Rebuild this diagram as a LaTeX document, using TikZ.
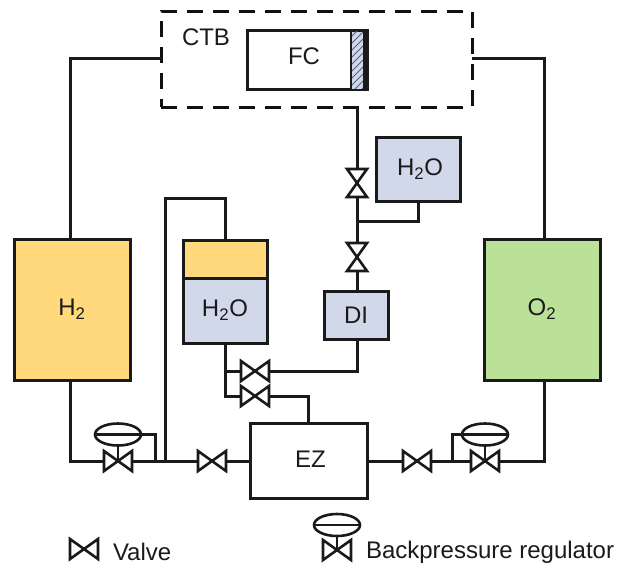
\documentclass[tikz,border=0pt]{standalone}
\usepackage{fontspec}
\setmainfont{Liberation Sans}
\usetikzlibrary{shapes.geometric}
\def\px{0.75pt}
\definecolor{inkc}{HTML}{1A1A1A}
\definecolor{yellowc}{HTML}{FFD97C}
\definecolor{bluec}{HTML}{D1D8E9}
\definecolor{greenc}{HTML}{BBE097}
\definecolor{dashc}{HTML}{111111}
\definecolor{hatchc}{HTML}{55607A}
\tikzset{
  pipe/.style={draw=inkc,line width=3*\px,line join=miter},
  valveline/.style={draw=inkc,line width=2.6*\px,line join=miter,miter limit=3},
  boxn/.style={draw=inkc,line width=3*\px,inner sep=0pt,outer sep=0pt,text=inkc,font=\fontsize{18pt}{19pt}\selectfont,align=center},
  labeln/.style={inner sep=0pt,outer sep=0pt,text=inkc,font=\fontsize{18pt}{19pt}\selectfont},
  valveh/.style={inner sep=0pt,outer sep=0pt,minimum width=28*\px,minimum height=20*\px,
    append after command={\pgfextra{\draw[valveline] (\tikzlastnode.north west) -- (\tikzlastnode.south east) -- (\tikzlastnode.north east) -- (\tikzlastnode.south west) -- cycle;}}},
  valvev/.style={inner sep=0pt,outer sep=0pt,minimum width=20*\px,minimum height=28*\px,
    append after command={\pgfextra{\draw[valveline] (\tikzlastnode.north west) -- (\tikzlastnode.north east) -- (\tikzlastnode.south west) -- (\tikzlastnode.south east) -- cycle;}}},
  diaphragm/.style={ellipse,draw=inkc,line width=2.6*\px,inner sep=0pt,outer sep=0pt,minimum width=46*\px,minimum height=22*\px,
    append after command={\pgfextra{\draw[valveline] (\tikzlastnode.west) -- (\tikzlastnode.east);}}},
}
\newcommand{\lift}[1]{\raisebox{3pt}{#1}}
\begin{document}
\begin{tikzpicture}[x=0.75pt,y=-0.75pt]
\useasboundingbox (0,0) rectangle (617,565);
% boxes
\node[boxn,fill=yellowc,minimum width=116*\px,minimum height=141*\px] (h2) at (72,309.5) {\lift{H\textsubscript{2}}};
\node[boxn,fill=greenc,minimum width=116*\px,minimum height=141*\px] (o2) at (542,309.5) {\lift{O\textsubscript{2}}};
\node[boxn,fill=yellowc,minimum width=84*\px,minimum height=38*\px] (tanktop) at (225,259) {};
\node[boxn,fill=bluec,minimum width=84*\px,minimum height=65*\px] (tankw) at (225,310.5) {\lift{H\textsubscript{2}O}};
\node[boxn,fill=bluec,minimum width=84*\px,minimum height=64*\px] (wtop) at (418,169) {\hspace{3pt}\lift{H\textsubscript{2}O}};
\node[boxn,fill=bluec,minimum width=64*\px,minimum height=48*\px] (di) at (356,315) {DI};
\node[boxn,minimum width=117*\px,minimum height=75*\px] (ez) at (308.5,460.5) {\hspace{3pt}\raisebox{1.5pt}{EZ}};
\node[boxn,minimum width=120*\px,minimum height=59*\px] (fc) at (307,60) {};
\node[labeln] (fct) at (304,56) {FC};
\node[boxn,draw=none,fill=bluec,minimum width=12*\px,minimum height=57*\px] (mem) at (357,60) {};
\begin{scope}
\clip (mem.south west) rectangle (mem.north east);
\foreach \k in {0,7,...,84}{\draw[hatchc,line width=1*\px] (351,30+\k) -- (363,18+\k);}
\end{scope}
\fill[inkc] (363,30) rectangle (368,91);
\draw[pipe,line width=2*\px] (mem.north west) -- (mem.south west);
\node[boxn,minimum width=311*\px,minimum height=96*\px,draw=dashc,dash pattern=on 16*\px off 10*\px] (ctb) at (316.5,59) {};
\node[labeln] (ctbt) at (206,37) {CTB};
% valves
\node[valvev] (vt1) at (357,183) {};
\node[valvev] (vt2) at (357,257) {};
\node[valveh] (vd) at (255,371) {};
\node[valveh] (ve) at (255,396) {};
\node[valveh] (rl) at (118,461) {};
\node[valveh] (vl) at (212,461) {};
\node[valveh] (vr) at (417,461) {};
\node[valveh] (rr) at (485,461) {};
\node[diaphragm] (dl) at (118,434.5) {};
\node[diaphragm] (dr) at (485,434.5) {};
% free bends
\coordinate (j1) at (357,221);
\coordinate (jl) at (225,371);
\coordinate (jm) at (165,461);
\coordinate (jf) at (155,461);
\coordinate (jr) at (452,461);
% connectors
\draw[pipe] (h2.north -| 70,0) |- (ctb.west |- 0,58);
\draw[pipe] (o2.north -| 544,0) |- (ctb.east |- 0,58);
\draw[pipe] (h2.south -| 70,0) |- (rl.west);
\draw[pipe] (o2.south -| 544,0) |- (rr.east);
\draw[pipe] (rl.east) -- (vl.west);
\draw[pipe] (vl.east) -- (ez.west |- vl.east);
\draw[pipe] (ez.east |- vr.west) -- (vr.west);
\draw[pipe] (vr.east) -- (rr.west);
\draw[valveline] (dl.south) -- (rl.center);
\draw[valveline] (dr.south) -- (rr.center);
\draw[pipe] (dl.east) -| (jf);
\draw[pipe] (dr.west) -| (jr);
\draw[pipe] (tanktop.north) |- (165,198) -- (jm);
\draw[pipe] (ctb.south -| vt1.north) -- (vt1.north);
\draw[pipe] (vt1.south) -- (vt2.north);
\draw[pipe] (vt2.south) -- (vt2.south |- di.north);
\draw[pipe] (wtop.south) |- (j1);
\draw[pipe] (vt2.south |- di.south) |- (vd.east);
\draw[pipe] (tankw.south) |- (ve.west);
\draw[pipe] (jl) -- (vd.west);
\draw[pipe] (ve.east) -| (ez.north -| 308,0);
% legend
\node[valveh] (lv) at (84,549) {};
\node[labeln,anchor=west] (lvt) at (113,551.5) {Valve};
\node[diaphragm] (ld) at (337,525) {};
\node[valveh] (lr) at (337,550) {};
\draw[valveline] (ld.south) -- (lr.center);
\node[labeln,anchor=west] (lrt) at (366,552) {Backpressure regulator};
\end{tikzpicture}
\end{document}
